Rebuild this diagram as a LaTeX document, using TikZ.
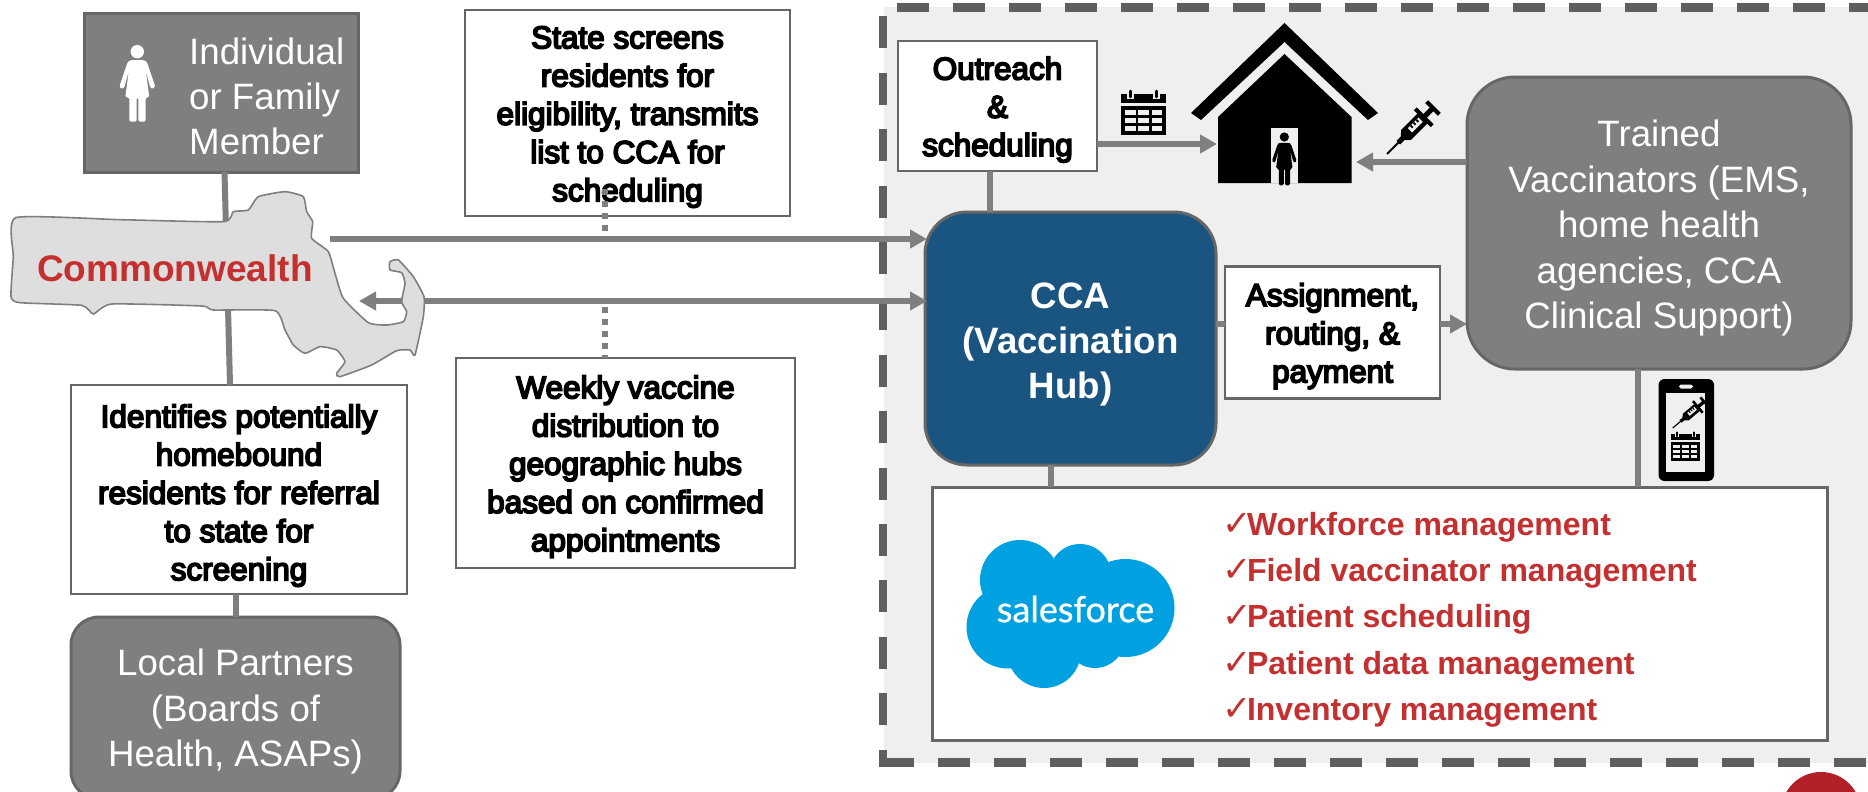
\documentclass[tikz,border=0pt]{standalone}
\usepackage{fontspec}
\setmainfont{Liberation Sans}
\newfontface\heavy[FakeBold=5.5]{Liberation Sans}
\newfontfamily\dejavu{DejaVu Sans}
\newfontface\sflogo[FakeBold=0.8]{Lato}
\usetikzlibrary{arrows.meta}
\definecolor{boxgrey}{HTML}{7F7F7F}
\definecolor{edgegrey}{HTML}{666666}
\definecolor{dashgrey}{HTML}{5F5F5F}
\definecolor{panel}{HTML}{EFEFEF}
\definecolor{hubblue}{HTML}{1A5480}
\definecolor{redtext}{HTML}{C4302F}
\definecolor{sfblue}{HTML}{00A1E0}
\definecolor{mapfill}{HTML}{DEDEDE}
\definecolor{seal}{HTML}{B22028}
\newcommand{\lift}[1]{\rule{0pt}{#1pt}}
\tikzset{
  greybox/.style={draw=edgegrey,line width=3pt,fill=boxgrey,inner sep=0pt,outer sep=0pt,text=white,align=center,
    font=\fontsize{36.7}{45.5}\selectfont},
  notebox/.style={draw=edgegrey,line width=2.6pt,fill=white,inner sep=0pt,outer sep=0pt,text=black,align=center,
    font=\heavy\fontsize{31.5}{38.2}\selectfont},
  hubbox/.style={draw=edgegrey,line width=3pt,fill=hubblue,inner sep=0pt,outer sep=0pt,text=white,align=center,
    font=\bfseries\fontsize{36.7}{45}\selectfont},
  link/.style={draw=boxgrey,line width=6pt},
  flow/.style={link,-{Triangle[length=17pt,width=18pt]}},
  flowback/.style={link,{Triangle[length=17pt,width=18pt]}-{Triangle[length=17pt,width=18pt]}},
  dotlink/.style={draw=boxgrey,line width=6pt,dash pattern=on 6pt off 6pt},
  dashedge/.style={draw=dashgrey,line width=8.5pt},
  listitem/.style={anchor=base west,inner sep=0pt,outer sep=0pt,text=redtext,font=\bfseries\fontsize{32}{38}\selectfont}
}
\newcommand{\personicon}[4]{%
  \begin{scope}[shift={(#1,#2)},scale=#3]
    \fill[#4] (0,0) circle (6.7);
    \fill[#4,rounded corners=1.5] (-7,8.5) -- (7,8.5) -- (9.5,10) -- (18,35) -- (15.5,37.5) -- (13,36) -- (8.5,19) -- (12,45.7) -- (8.3,45.7) -- (8.3,70) -- (1,70) -- (1,45.7) -- (-0.7,45.7) -- (-0.7,70) -- (-8,70) -- (-8,45.7) -- (-12,45.7) -- (-8.5,19) -- (-13,36) -- (-15.5,37.5) -- (-18,35) -- (-9.5,10) -- cycle;
  \end{scope}}
\newcommand{\calicon}[4]{%
  \begin{scope}[shift={(#1,#2)},scale=#3]
    \fill[black] (0,4) rectangle (45,13);
    \fill[#4] (6,3) rectangle (13,9);
    \fill[#4] (32,3) rectangle (39,9);
    \draw[black,line width=#3*2.6pt,line cap=round] (9.5,1) -- (9.5,7);
    \draw[black,line width=#3*2.6pt,line cap=round] (35.5,1) -- (35.5,7);
    \fill[black] (0,16) rectangle (45,45);
    \foreach \cx in {3.8,17.2,30.6} \foreach \cy in {20,28,36}
      \fill[#4] (\cx,\cy) rectangle ++(10.7,5.3);
  \end{scope}}
\newcommand{\syringeicon}[5]{%
  \begin{scope}[shift={(#1,#2)},rotate=#4,scale=#3]
    \fill[black] (0,-0.9) rectangle (20,0.9);
    \fill[black] (16,-2.5) -- (22,-2.5) -- (27,-7) -- (52,-7) -- (52,7) -- (27,7) -- (22,2.5) -- (16,2.5) -- cycle;
    \fill[black] (50,-12) rectangle (54,12);
    \fill[black] (53,-2.6) rectangle (64,2.6);
    \fill[black] (63,-9) rectangle (67,9);
    \fill[#5] (33,-3.5) rectangle (48,2.5);
    \foreach \tx in {36,40,44} \fill[black] (\tx,-3.5) rectangle ++(1.8,3);
  \end{scope}}
\begin{document}
\begin{tikzpicture}[x=1pt,y=-1pt]
\clip (0,0) rectangle (1868,792);
\fill[white] (0,0) rectangle (1868,792);
% panel
\fill[panel] (884,7) rectangle (1868,763);
\draw[dashedge,dash pattern=on 32pt off 24pt,dash phase=42pt] (883,7.5) -- (1868,7.5);
\draw[dashedge,dash pattern=on 32pt off 24.4pt,dash phase=47pt] (883,7) -- (883,767);
\draw[dashedge,dash pattern=on 32pt off 24pt,dash phase=1pt] (883,762.5) -- (1868,762.5);
\fill[seal] (1821,812) circle (40);

% helper coordinates
\coordinate (xindiv) at (224.5,0);
\coordinate (xident) at (230,0);
\coordinate (xlocal) at (236,0);
\coordinate (xout) at (990,0);
\coordinate (xsfl) at (1051,0);
\coordinate (xsfr) at (1638,0);
\coordinate (xdot) at (605,0);
\coordinate (yupper) at (0,239);
\coordinate (ylower) at (0,301);
\coordinate (yhouseL) at (0,144);
\coordinate (yhouseR) at (0,162);
\coordinate (yassign) at (0,324);
\coordinate (mapexit) at (330,239);
\coordinate (baytip) at (359,301);
\coordinate (houseleft) at (1217,144);
\coordinate (houseright) at (1356,162);
\coordinate (dotstart) at (605,189);
\coordinate (dotend) at (605,307);

% boxes
\node[greybox,minimum width=274pt,minimum height=158pt] (indiv) at (221,93) {};
\node[anchor=west,inner sep=0pt,text=white,align=left,font=\fontsize{36.7}{45}\selectfont] (indivtext) at (189,96.5) {Individual\\or Family\\Member};
\node[notebox,minimum width=325pt,minimum height=206pt] (state) at (627.5,113) {\lift{30}State screens\\residents for\\eligibility, transmits\\list to CCA for\\scheduling};
\node[notebox,minimum width=339pt,minimum height=210pt] (weekly) at (625.5,463) {\lift{30}Weekly vaccine\\distribution to\\geographic hubs\\based on confirmed\\appointments};
\node[notebox,minimum width=336pt,minimum height=209pt] (ident) at (239,489.5) {\lift{35}Identifies potentially\\homebound\\residents for referral\\to state for\\screening};
\node[greybox,rounded corners=28pt,minimum width=329pt,minimum height=182pt] (local) at (235.5,708) {\lift{34}Local Partners\\(Boards of\\Health, ASAPs)};
\node[notebox,minimum width=199pt,minimum height=130pt] (outreach) at (997.5,106) {\lift{30}Outreach\\\&\\scheduling};
\node[hubbox,rounded corners=42pt,minimum width=291pt,minimum height=253pt] (cca) at (1070.5,338.5) {\lift{38.5}CCA\\(Vaccination\\Hub)};
\node[notebox,minimum width=215pt,minimum height=132pt] (assign) at (1332.5,332.5) {\lift{30}Assignment,\\routing, \&\\payment};
\node[greybox,rounded corners=48pt,minimum width=384pt,minimum height=292pt] (trained) at (1659,223) {\lift{37}Trained\\Vaccinators (EMS,\\home health\\agencies, CCA\\Clinical Support)};
\node[draw=edgegrey,line width=3pt,fill=white,inner sep=0pt,outer sep=0pt,minimum width=895pt,minimum height=253pt] (sfbox) at (1379.5,613.5) {};

% connectors
\draw[link] (xindiv |- indiv.south) -- (xident |- ident.north);
\draw[link] (xlocal |- ident.south) -- (xlocal |- local.north);
\draw[flow,shorten >=-2pt] (mapexit) -- (cca.west |- yupper);
\draw[flowback,shorten >=-2pt] (baytip) -- (cca.west |- ylower);
\draw[link] (xout |- outreach.south) -- (xout |- cca.north);
\draw[flow] (outreach.east |- yhouseL) -- (houseleft);
\draw[flow] (trained.west |- yhouseR) -- (houseright);
\draw[link] (cca.east |- yassign) -- (assign.west |- yassign);
\draw[flow] (assign.east |- yassign) -- (trained.west |- yassign);
\draw[link] (xsfl |- cca.south) -- (xsfl |- sfbox.north);
\draw[link] (xsfr |- trained.south) -- (xsfr |- sfbox.north);
\draw[dotlink] (dotstart) -- (xdot |- yupper);
\draw[dotlink] (dotend) -- (xdot |- weekly.north);

% Massachusetts
\begin{scope}[shift={(0,180)},x=0.33333pt,y=-0.33333pt]
\draw[draw=boxgrey,line width=1.6pt,fill=mapfill] plot[smooth cycle,tension=0.3] coordinates {
(47,113) (360,119) (670,125) (700,95) (745,90) (775,50) (855,35) (910,50) (920,95) (938,125) (935,175) (985,215) (1005,280) (1030,355) (1105,428) (1160,435) (1210,425) (1220,395) (1205,365) (1215,310) (1205,278) (1170,270) (1170,245) (1195,240) (1240,290) (1272,350) (1270,410) (1245,525) (1230,510) (1190,512) (1115,555) (1020,590) (1010,580) (1035,545) (1010,510) (960,500) (915,520) (880,495) (855,450) (825,392) (640,390) (605,378) (335,372) (280,402) (245,376) (60,368) (33,350) (40,230)};
\end{scope}
\node[anchor=base west,inner sep=0pt,text=redtext,font=\bfseries\fontsize{37}{44}\selectfont] (commonwealth) at (37,281) {Commonwealth};

% icons
\personicon{137.3}{51.7}{1}{white}
\calicon{1121}{90}{1}{panel}
\syringeicon{1387}{154}{1}{45}{panel}
% house
\fill[black] (1284.5,23) -- (1378,113) -- (1368,120) -- (1284.5,42) -- (1201,120) -- (1191,113) -- cycle;
\fill[black] (1284.5,54) -- (1351.5,117) -- (1351.5,183) -- (1218,183) -- (1218,117) -- cycle;
\fill[panel] (1271,128) rectangle (1298,183);
\personicon{1284.3}{137}{0.69}{black}
% phone
\fill[black,rounded corners=6pt] (1658.5,379) rectangle (1714,481);
\fill[panel] (1666,393) rectangle (1705,472);
\fill[panel,rounded corners=1.8pt] (1679,384.5) rectangle (1693,388.5);
\syringeicon{1672.7}{428}{0.63}{40}{panel}
\calicon{1671}{431.7}{0.64}{panel}

% salesforce logo
\fill[sfblue] (1020,580) circle (40);
\fill[sfblue] (1080,575) circle (31);
\fill[sfblue] (1125.5,608) circle (49);
\fill[sfblue] (1008,627) circle (41.5);
\fill[sfblue] (1044,651) circle (37);
\fill[sfblue] (1095,638) circle (30);
\fill[sfblue] (1075,610) circle (50);
\node[inner sep=0pt,text=white,font=\sflogo\fontsize{36}{40}\selectfont] (sflogo) at (1075.5,609) {salesforce};

% list
\newcommand{\chk}{\makebox[25pt][l]{\dejavu\mdseries\fontsize{35}{38}\selectfont ✓}}
\node[listitem] (item1) at (1222,535) {\chk Workforce management};
\node[listitem] (item2) at (1222,581) {\chk Field vaccinator management};
\node[listitem] (item3) at (1222,627.5) {\chk Patient scheduling};
\node[listitem] (item4) at (1222,674) {\chk Patient data management};
\node[listitem] (item5) at (1222,720) {\chk Inventory management};
\end{tikzpicture}
\end{document}
